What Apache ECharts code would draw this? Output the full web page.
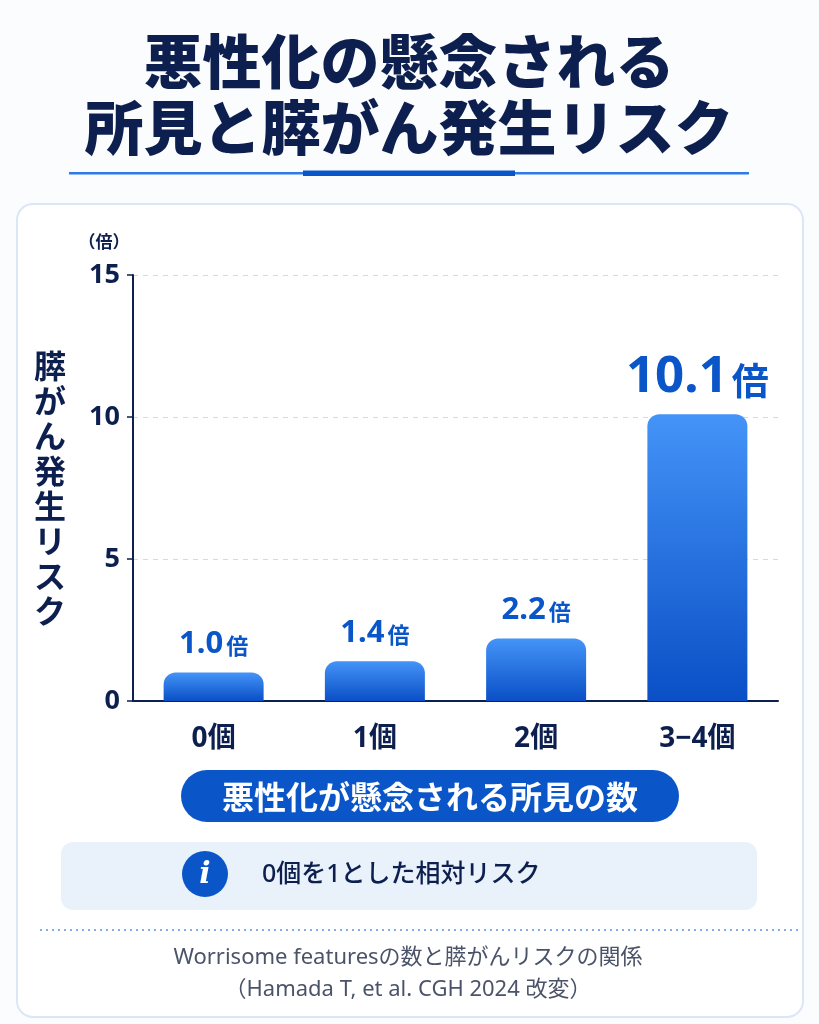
<!DOCTYPE html>
<html><head><meta charset="utf-8">
<script src="https://cdn.jsdelivr.net/npm/echarts@6/dist/echarts.min.js"></script>
<style>html,body{margin:0;padding:0;background:#fbfcfe;}#c{width:819px;height:1024px;}</style>
</head><body><div id="c"></div>
<script>
var categories = ['0個', '1個', '2個', '3−4個'];
var riskValues = [1.0, 1.4, 2.2, 10.1];
var yTicks = [0, 5, 10, 15];
var titleLines = ['悪性化の懸念される', '所見と膵がん発生リスク'];
var yAxisTitle = '膵がん発生リスク';
var xAxisTitle = '悪性化が懸念される所見の数';
var noteText = '0個を1とした相対リスク';
var sourceLines = ['Worrisome featuresの数と膵がんリスクの関係', '（Hamada T, et al. CGH 2024 改変）'];

var FONT = '"Noto Sans CJK JP", "Noto Sans", sans-serif';
var NFONT = '"Noto Sans", "Noto Sans CJK JP", sans-serif';
var NAVY = '#0d1f4e';
var BLUE = '#0a56c8';

var chart = echarts.init(document.getElementById('c'), null, {renderer: 'canvas'});

var barData = riskValues.map(function (v, i) {
  var big = i === riskValues.length - 1;
  return {
    value: v,
    label: {
      formatter: big ? '{bv|' + v.toFixed(1) + '}{bu|倍}' : '{v|' + v.toFixed(1) + '}{u|倍}',
      distance: big ? 11 : 13
    }
  };
});

chart.setOption({
  backgroundColor: '#fbfcfe',
  animation: false,
  grid: {left: 133, right: 41, top: 275, bottom: 323, containLabel: false},
  xAxis: {
    type: 'category',
    data: categories,
    axisLine: {show: true, lineStyle: {color: NAVY, width: 2}},
    axisTick: {show: false},
    axisLabel: {color: NAVY, fontFamily: NFONT, fontWeight: 'bold', fontSize: 28, margin: 24}
  },
  yAxis: {
    type: 'value',
    min: yTicks[0], max: yTicks[yTicks.length - 1], interval: 5,
    axisLine: {show: true, lineStyle: {color: NAVY, width: 2}},
    axisTick: {show: true, length: 6, lineStyle: {color: NAVY, width: 1.5}},
    axisLabel: {color: NAVY, fontFamily: NFONT, fontWeight: 'bold', fontSize: 27, margin: 13},
    splitLine: {show: true, lineStyle: {color: '#d6d9de', type: [5, 5], width: 1}}
  },
  series: [{
    type: 'bar',
    data: barData,
    barWidth: 100,
    itemStyle: {
      borderRadius: [12, 12, 0, 0],
      color: new echarts.graphic.LinearGradient(0, 0, 0, 1, [
        {offset: 0, color: '#4494f8'},
        {offset: 1, color: '#0a4fc6'}
      ])
    },
    label: {
      show: true,
      position: 'top',
      rich: {
        v: {fontFamily: NFONT, fontWeight: 'bold', fontSize: 31, color: BLUE, verticalAlign: 'bottom'},
        u: {fontFamily: FONT, fontWeight: 'bold', fontSize: 22, color: BLUE, verticalAlign: 'bottom', padding: [0, 0, 3, 3]},
        bv: {fontFamily: NFONT, fontWeight: 'bold', fontSize: 51, color: BLUE, verticalAlign: 'bottom'},
        bu: {fontFamily: FONT, fontWeight: 'bold', fontSize: 37, color: BLUE, verticalAlign: 'bottom', padding: [0, 0, 4, 4]}
      }
    },
    z: 3
  }],
  graphic: [
    {type: 'rect', z: -10, shape: {x: 17, y: 204, width: 786, height: 813, r: 16},
      style: {fill: '#ffffff', stroke: '#dbe7f7', lineWidth: 2}},
    {type: 'text', z: 5, style: {text: titleLines[0], x: 409, y: 62, align: 'center', verticalAlign: 'middle',
      font: '900 59px ' + FONT, fill: NAVY}},
    {type: 'text', z: 5, style: {text: titleLines[1], x: 409, y: 128, align: 'center', verticalAlign: 'middle',
      font: '900 59px ' + FONT, fill: NAVY}},
    {type: 'rect', shape: {x: 69, y: 172, width: 680, height: 2.5}, style: {fill: '#2f7ae6'}},
    {type: 'rect', shape: {x: 303, y: 170.5, width: 212, height: 5.5}, style: {fill: BLUE}},
    {type: 'text', style: {text: '（倍）', x: 104, y: 242, align: 'center', verticalAlign: 'middle',
      font: 'bold 17px ' + FONT, fill: NAVY}},
    {type: 'text', style: {text: yAxisTitle.split('').join('\n'), x: 50, y: 488, align: 'center', verticalAlign: 'middle',
      font: 'bold 32px ' + FONT, lineHeight: 35, fill: NAVY}},
    {type: 'rect', shape: {x: 181, y: 770, width: 498, height: 52, r: 26}, style: {fill: BLUE}},
    {type: 'text', style: {text: xAxisTitle, x: 430, y: 797, align: 'center', verticalAlign: 'middle',
      font: 'bold 32px ' + FONT, fill: '#ffffff'}},
    {type: 'rect', shape: {x: 61, y: 842, width: 696, height: 68, r: 12}, style: {fill: '#e9f1fb'}},
    {type: 'circle', shape: {cx: 205, cy: 874, r: 23}, style: {fill: BLUE}},
    {type: 'text', style: {text: 'i', x: 205, y: 875, align: 'center', verticalAlign: 'middle',
      font: 'italic bold 30px "DejaVu Serif", "Liberation Serif", serif', fill: '#ffffff'}},
    {type: 'text', style: {text: noteText, x: 262, y: 875, align: 'left', verticalAlign: 'middle',
      font: '500 25px ' + NFONT, fill: NAVY}},
    {type: 'line', shape: {x1: 40, y1: 930, x2: 800, y2: 930},
      style: {stroke: '#7fb0ee', lineWidth: 2, lineDash: [2, 4]}},
    {type: 'text', style: {text: sourceLines[0], x: 408, y: 958, align: 'center', verticalAlign: 'middle',
      font: '22px ' + NFONT, fill: '#4a5368'}},
    {type: 'text', style: {text: sourceLines[1], x: 408, y: 990, align: 'center', verticalAlign: 'middle',
      font: '22px ' + NFONT, fill: '#4a5368'}}
  ]
});
</script>
</body></html>
